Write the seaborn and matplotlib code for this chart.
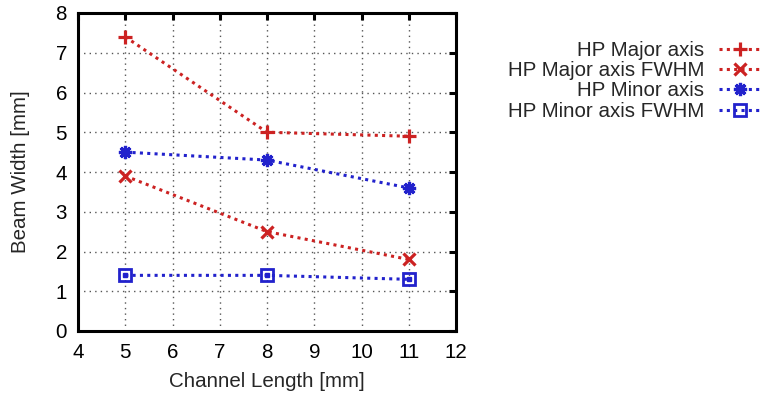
import matplotlib
matplotlib.use("Agg")
import matplotlib.pyplot as plt
import seaborn as sns
import pandas as pd

# Channel lengths (mm) and measured beam widths (mm)
channel_length = [5, 8, 11]
hp_major = [7.4, 5.0, 4.9]
hp_major_fwhm = [3.9, 2.5, 1.8]
hp_minor = [4.5, 4.3, 3.6]
hp_minor_fwhm = [1.4, 1.4, 1.3]

series_names = ["HP Major axis", "HP Major axis FWHM", "HP Minor axis", "HP Minor axis FWHM"]
series_values = [hp_major, hp_major_fwhm, hp_minor, hp_minor_fwhm]

x_ticks = [4, 5, 6, 7, 8, 9, 10, 11, 12]
y_ticks = [0, 1, 2, 3, 4, 5, 6, 7, 8]

RED = "#cc2222"
BLUE = "#2222cc"
styles = {
    "HP Major axis": dict(color=RED, marker="+", ms=10, mew=2.3, mfc=RED),
    "HP Major axis FWHM": dict(color=RED, marker="x", ms=8, mew=2.3, mfc=RED),
    "HP Minor axis": dict(color=BLUE, marker=(8, 2, 0), ms=9.5, mew=2.3, mfc=BLUE),
    "HP Minor axis FWHM": dict(color=BLUE, marker="s", ms=8, mew=2.0, mfc="none"),
}

df = pd.DataFrame({
    "length": channel_length * len(series_names),
    "width": [v for vals in series_values for v in vals],
    "series": [n for n, vals in zip(series_names, series_values) for _ in vals],
})

sns.set_theme(style="white")
plt.rcParams["font.family"] = ["Liberation Sans", "DejaVu Sans"]
plt.rcParams["font.size"] = 14.8

fig = plt.figure(figsize=(7.72, 3.98), dpi=100)
ax = fig.add_axes([78 / 772, 1 - 331 / 398, (456 - 78) / 772, (331 - 13) / 398])

for name in series_names:
    st = styles[name]
    sub = df[df["series"] == name]
    sns.lineplot(data=sub, x="length", y="width", ax=ax, color=st["color"],
                 linestyle=(0, (1, 1.4)), linewidth=2.2, label=name,
                 marker=st["marker"], markersize=st["ms"], markeredgewidth=st["mew"],
                 markerfacecolor=st["mfc"], markeredgecolor=st["color"],
                 dash_capstyle="butt")

# centre dot inside the open squares
sub = df[df["series"] == "HP Minor axis FWHM"]
ax.plot(sub["length"], sub["width"], linestyle="none", marker="s", ms=2.2,
        color=BLUE, zorder=5)

ax.set_xlim(4, 12)
ax.set_ylim(0, 8)
ax.set_xticks(x_ticks)
ax.set_yticks(y_ticks)
ax.set_xlabel("Channel Length [mm]", fontsize=14.8, labelpad=7)
ax.set_ylabel("Beam Width [mm]", fontsize=14.8, labelpad=18)
ax.grid(True, color="#555555", linestyle=(0, (1, 3)), linewidth=1)
ax.tick_params(direction="in", length=5, width=2.2, top=True, right=True,
               labelsize=14.8, colors="black", pad=8)
ax.tick_params(axis="x", pad=9)
for sp in ax.spines.values():
    sp.set_linewidth(2.2)
    sp.set_color("black")
ax.set_axisbelow(True)

handles, labels = ax.get_legend_handles_labels()
if ax.get_legend():
    ax.get_legend().remove()
fig.legend(handles, labels, loc="upper right",
           bbox_to_anchor=(762 / 772, 1 - 41 / 398),
           frameon=False, markerfirst=False, borderpad=0, borderaxespad=0,
           handlelength=2.1, handletextpad=0.7, labelspacing=0.06,
           fontsize=14.8)

fig.savefig("out.png", dpi=100)
